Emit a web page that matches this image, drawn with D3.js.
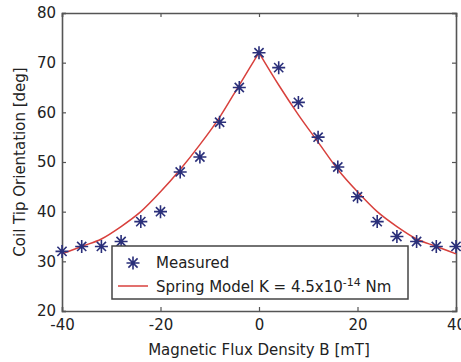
<!DOCTYPE html>
<html>
<head>
<meta charset="utf-8">
<script src="https://cdn.jsdelivr.net/npm/d3@7"></script>
<style>
  body { margin: 0; background: #fff; }
  text { font-family: "DejaVu Sans", "Liberation Sans", sans-serif; fill: #222; }
</style>
</head>
<body>
<div id="chart"></div>
<script>
// measured points
const fluxB = [-40, -36, -32, -28, -24, -20, -16, -12, -8, -4, 0, 4, 8, 12, 16, 20, 24, 28, 32, 36, 40];
const measured = [32, 33, 33, 34, 38, 40, 48, 51, 58, 65, 72, 69, 62, 55, 49, 43, 38, 35, 34, 33, 33];

// spring model curve
const modelLeftB = [-40, -36, -32, -28, -24, -20, -16, -12, -8, -4, 0];
const modelLeft = [31.5, 33, 34.5, 37, 40, 44, 48.5, 53.5, 59, 65.5, 72];
const modelRightB = [0, 4, 8, 12, 16, 20, 24, 28, 32, 36, 40];
const modelRight = [72, 65.5, 59.5, 54, 48.5, 44, 40, 37, 34.5, 33, 31.5];

const xTicks = [-40, -20, 0, 20, 40];
const yTicks = [20, 30, 40, 50, 60, 70, 80];

const W = 461, H = 362;
const margin = {top: 13, right: 5, bottom: 51, left: 62};
const innerW = W - margin.left - margin.right;
const innerH = H - margin.top - margin.bottom;

const svg = d3.select("#chart").append("svg")
  .attr("width", W)
  .attr("height", H);

const g = svg.append("g")
  .attr("transform", `translate(${margin.left},${margin.top})`);

const x = d3.scaleLinear().domain([-40, 40]).range([0, innerW]);
const y = d3.scaleLinear().domain([20, 80]).range([innerH, 0]);

const axisColor = "#555";

// axes, MATLAB style box with inward ticks
const bottomAxis = g.append("g")
  .attr("transform", `translate(0,${innerH})`)
  .call(d3.axisBottom(x).tickValues(xTicks).tickSize(-4).tickPadding(8).tickFormat(d3.format("d")));
const topAxis = g.append("g")
  .call(d3.axisTop(x).tickValues(xTicks).tickSize(-4).tickFormat(""));
const leftAxis = g.append("g")
  .call(d3.axisLeft(y).tickValues(yTicks).tickSize(-4).tickPadding(6));
const rightAxis = g.append("g")
  .attr("transform", `translate(${innerW},0)`)
  .call(d3.axisRight(y).tickValues(yTicks).tickSize(-4).tickFormat(""));

[bottomAxis, topAxis, leftAxis, rightAxis].forEach(a => {
  a.select(".domain").attr("stroke", axisColor).attr("stroke-width", 1.6);
  a.selectAll(".tick line").attr("stroke", axisColor).attr("stroke-width", 1.2);
  a.selectAll("text").style("font-size", "15px").attr("fill", "#222");
});
bottomAxis.selectAll("text").text(d => d < 0 ? "-" + Math.abs(d) : d);

// model line, drawn as two branches so the cusp at 0 stays sharp
const line = d3.line()
  .x(d => x(d[0]))
  .y(d => y(d[1]))
  .curve(d3.curveMonotoneX);

[[modelLeftB, modelLeft], [modelRightB, modelRight]].forEach(([bs, vs]) => {
  g.append("path")
    .datum(bs.map((b, i) => [b, vs[i]]))
    .attr("d", line)
    .attr("fill", "none")
    .attr("stroke", "#d8403c")
    .attr("stroke-width", 1.5);
});

// asterisk marker
function star(sel, r) {
  const a = r * Math.SQRT1_2;
  sel.append("path")
    .attr("d", `M0,${-r}V${r}M${-r},0H${r}M${-a},${-a}L${a},${a}M${-a},${a}L${a},${-a}`)
    .attr("stroke", "#2a2f7a")
    .attr("stroke-width", 1.6)
    .attr("fill", "none");
}

g.append("g")
  .selectAll("g")
  .data(fluxB.map((b, i) => ({b, v: measured[i]})))
  .join("g")
  .attr("transform", d => `translate(${x(d.b)},${y(d.v)})`)
  .each(function () { star(d3.select(this), 6.5); });

// legend
const legend = svg.append("g").attr("transform", "translate(112,246)");
legend.append("rect")
  .attr("width", 296)
  .attr("height", 53)
  .attr("fill", "#fff")
  .attr("stroke", "#444")
  .attr("stroke-width", 1.5);
const m = legend.append("g").attr("transform", "translate(21,17)");
star(m, 6.5);
legend.append("text").attr("x", 44).attr("y", 22).style("font-size", "15px").text("Measured");
legend.append("line")
  .attr("x1", 6).attr("x2", 36).attr("y1", 40).attr("y2", 40)
  .attr("stroke", "#d8403c").attr("stroke-width", 1.5);
const t2 = legend.append("text").attr("x", 44).attr("y", 46).style("font-size", "15px");
t2.append("tspan").text("Spring Model K = 4.5x10");
t2.append("tspan").attr("dy", -6).style("font-size", "11px").text("-14");
t2.append("tspan").attr("dy", 6).text(" Nm");

// axis titles
svg.append("text")
  .attr("x", margin.left + innerW / 2)
  .attr("y", 355)
  .attr("text-anchor", "middle")
  .style("font-size", "15px")
  .text("Magnetic Flux Density B [mT]");

svg.append("text")
  .attr("transform", `translate(25,${margin.top + innerH / 2}) rotate(-90)`)
  .attr("text-anchor", "middle")
  .style("font-size", "15px")
  .text("Coil Tip Orientation [deg]");
</script>
</body>
</html>
